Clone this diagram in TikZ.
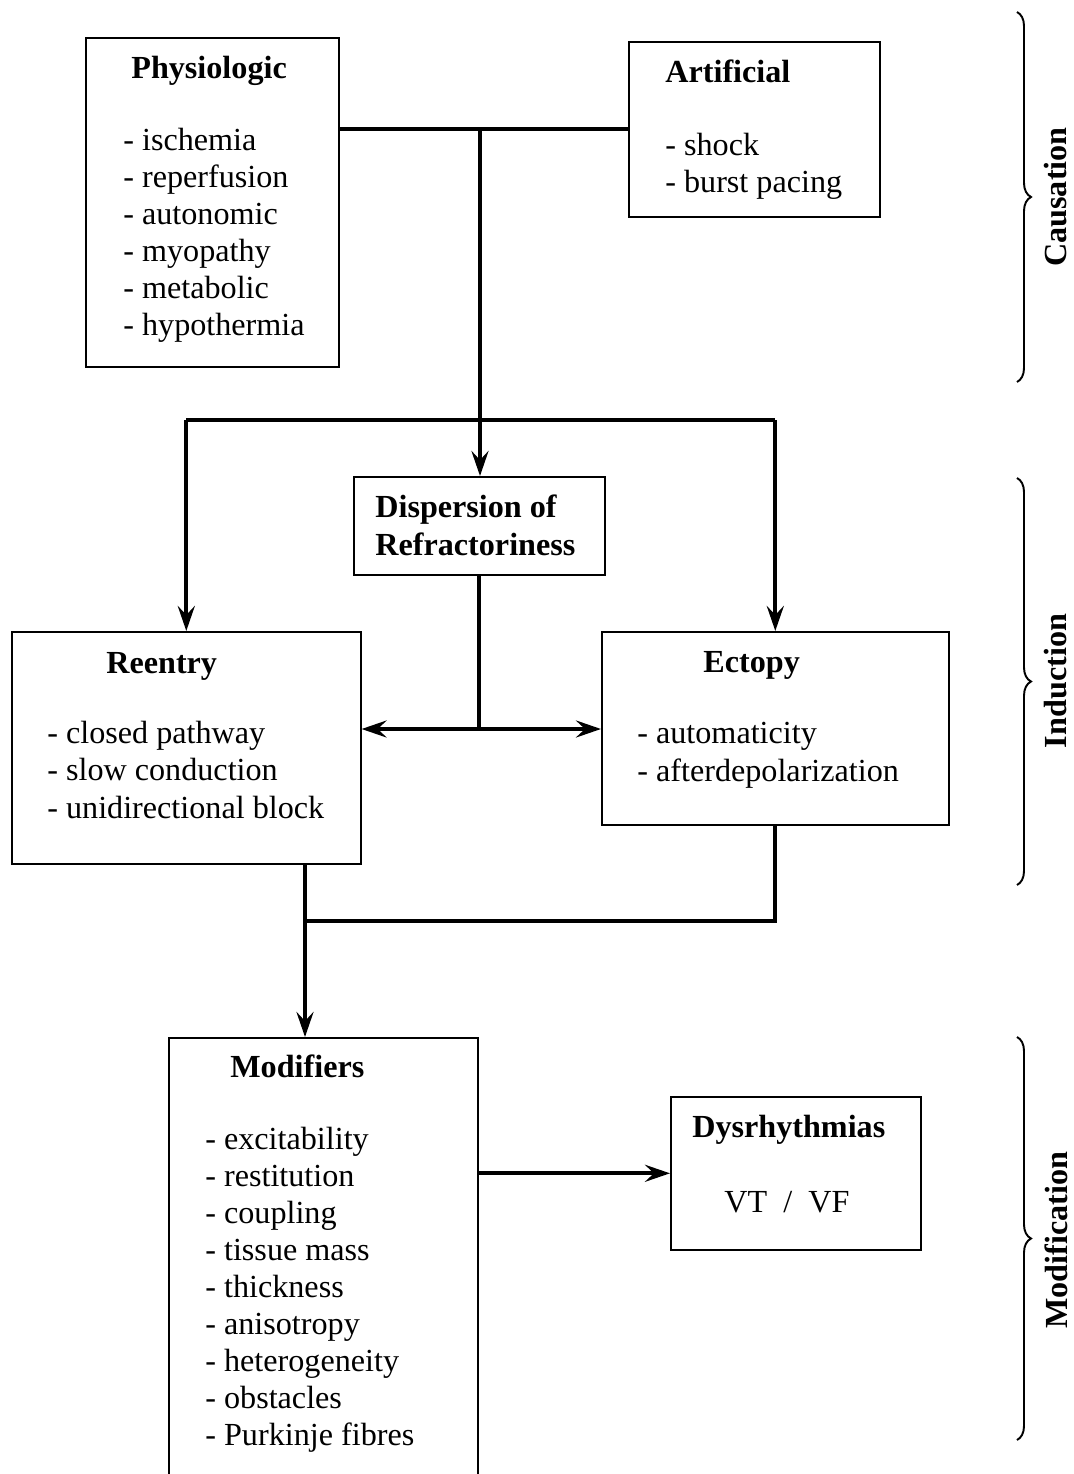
\documentclass[tikz,border=0pt]{standalone}
\usepackage{fontspec}
\setmainfont{Liberation Serif}
\usetikzlibrary{arrows.meta,decorations.pathreplacing}

\begin{document}
\begin{tikzpicture}[x=0.2mm,y=-0.2mm,
  box/.style={draw,line width=0.9pt,anchor=north west,inner sep=0pt},
  txt/.style={anchor=base west,inner sep=0pt,font=\fontsize{18.3}{21}\selectfont},
  head/.style={txt,font=\fontsize{18.3}{21}\selectfont\bfseries},
  conn/.style={line width=2.2pt},
  arr/.style={conn,-{Stealth[length=5mm,width=3.4mm,inset=1.8mm]}},
  grp/.style={decorate,decoration={brace,amplitude=2.8mm},line width=1.1pt},
  side/.style={rotate=90,inner sep=0pt,font=\fontsize{18.3}{21}\selectfont\bfseries}]
\useasboundingbox (0,0) rectangle (1073,1474);

\node[box,minimum width=50.6mm,minimum height=65.8mm] (phys) at (85,37) {};
\node[head] (phys-t) at (131,78) {Physiologic};
\foreach \w [count=\i] in {ischemia,reperfusion,autonomic,myopathy,metabolic,hypothermia}
  \node[txt] (phys-\i) at (123,150+37*\i-37) {- \w};

\node[box,minimum width=50.2mm,minimum height=35mm] (art) at (628,41) {};
\node[head] (art-t) at (665,82) {Artificial};
\node[txt] (art-1) at (665,155) {- shock};
\node[txt] (art-2) at (665,192) {- burst pacing};

\node[box,minimum width=50.2mm,minimum height=19.6mm] (disp) at (353,476) {};
\node[head] (disp-1) at (375,517) {Dispersion of};
\node[head] (disp-2) at (375,555) {Refractoriness};

\node[box,minimum width=69.8mm,minimum height=46.4mm] (reen) at (11,631) {};
\node[head] (reen-t) at (106,673) {Reentry};
\foreach \w [count=\i] in {closed pathway,slow conduction,unidirectional block}
  \node[txt] (reen-\i) at (47,743+37.5*\i-37.5) {- \w};

\node[box,minimum width=69.4mm,minimum height=38.6mm] (ect) at (601,631) {};
\node[head] (ect-t) at (703,672) {Ectopy};
\foreach \w [count=\i] in {automaticity,afterdepolarization}
  \node[txt] (ect-\i) at (637,743+38*\i-38) {- \w};

\node[box,minimum width=61.8mm,minimum height=94mm] (mod) at (168,1037) {};
\node[head] (mod-t) at (230,1077) {Modifiers};
\foreach \w [count=\i] in {excitability,restitution,coupling,tissue mass,thickness,anisotropy,heterogeneity,obstacles,Purkinje fibres}
  \node[txt] (mod-\i) at (205,1149+37*\i-37) {- \w};

\node[box,minimum width=50mm,minimum height=30.6mm] (dys) at (670,1096) {};
\node[head] (dys-t) at (692,1137) {Dysrhythmias};
\node[txt] (dys-1) at (724,1212) {VT\ \ /\ \ VF};

\coordinate (join) at (480,129);
\coordinate (split) at (480,420);
\coordinate (fork) at (479,729);
\coordinate (merge) at (305,921);

\draw[conn] (phys.east |- join) -- (art.west |- join);
\draw[arr] (join) -- (join |- disp.north);
\draw[conn] (split -| reen.north) -- (split -| ect.north);
\draw[arr] (split -| reen.north) -- (reen.north);
\draw[arr] (split -| ect.north) -- (ect.north);

\draw[conn] (disp.south -| fork) -- (fork);
\draw[arr] (fork) -- (fork -| reen.east);
\draw[arr] (fork) -- (fork -| ect.west);

\draw[conn] (reen.south -| merge) -- (merge) -- (merge -| ect.south) -- (ect.south);
\draw[arr] (merge) -- (merge |- mod.north);
\draw[arr] (mod.east |- dys.west) -- (dys.west);

\draw[grp] (1017,12) -- (1017,382);
\node[side] (cause) at (1056,197) {Causation};
\draw[grp] (1017,478) -- (1017,885);
\node[side] (induce) at (1056,681) {Induction};
\draw[grp] (1017,1037) -- (1017,1440);
\node[side] (modif) at (1056,1240) {Modification};
\end{tikzpicture}
\end{document}
